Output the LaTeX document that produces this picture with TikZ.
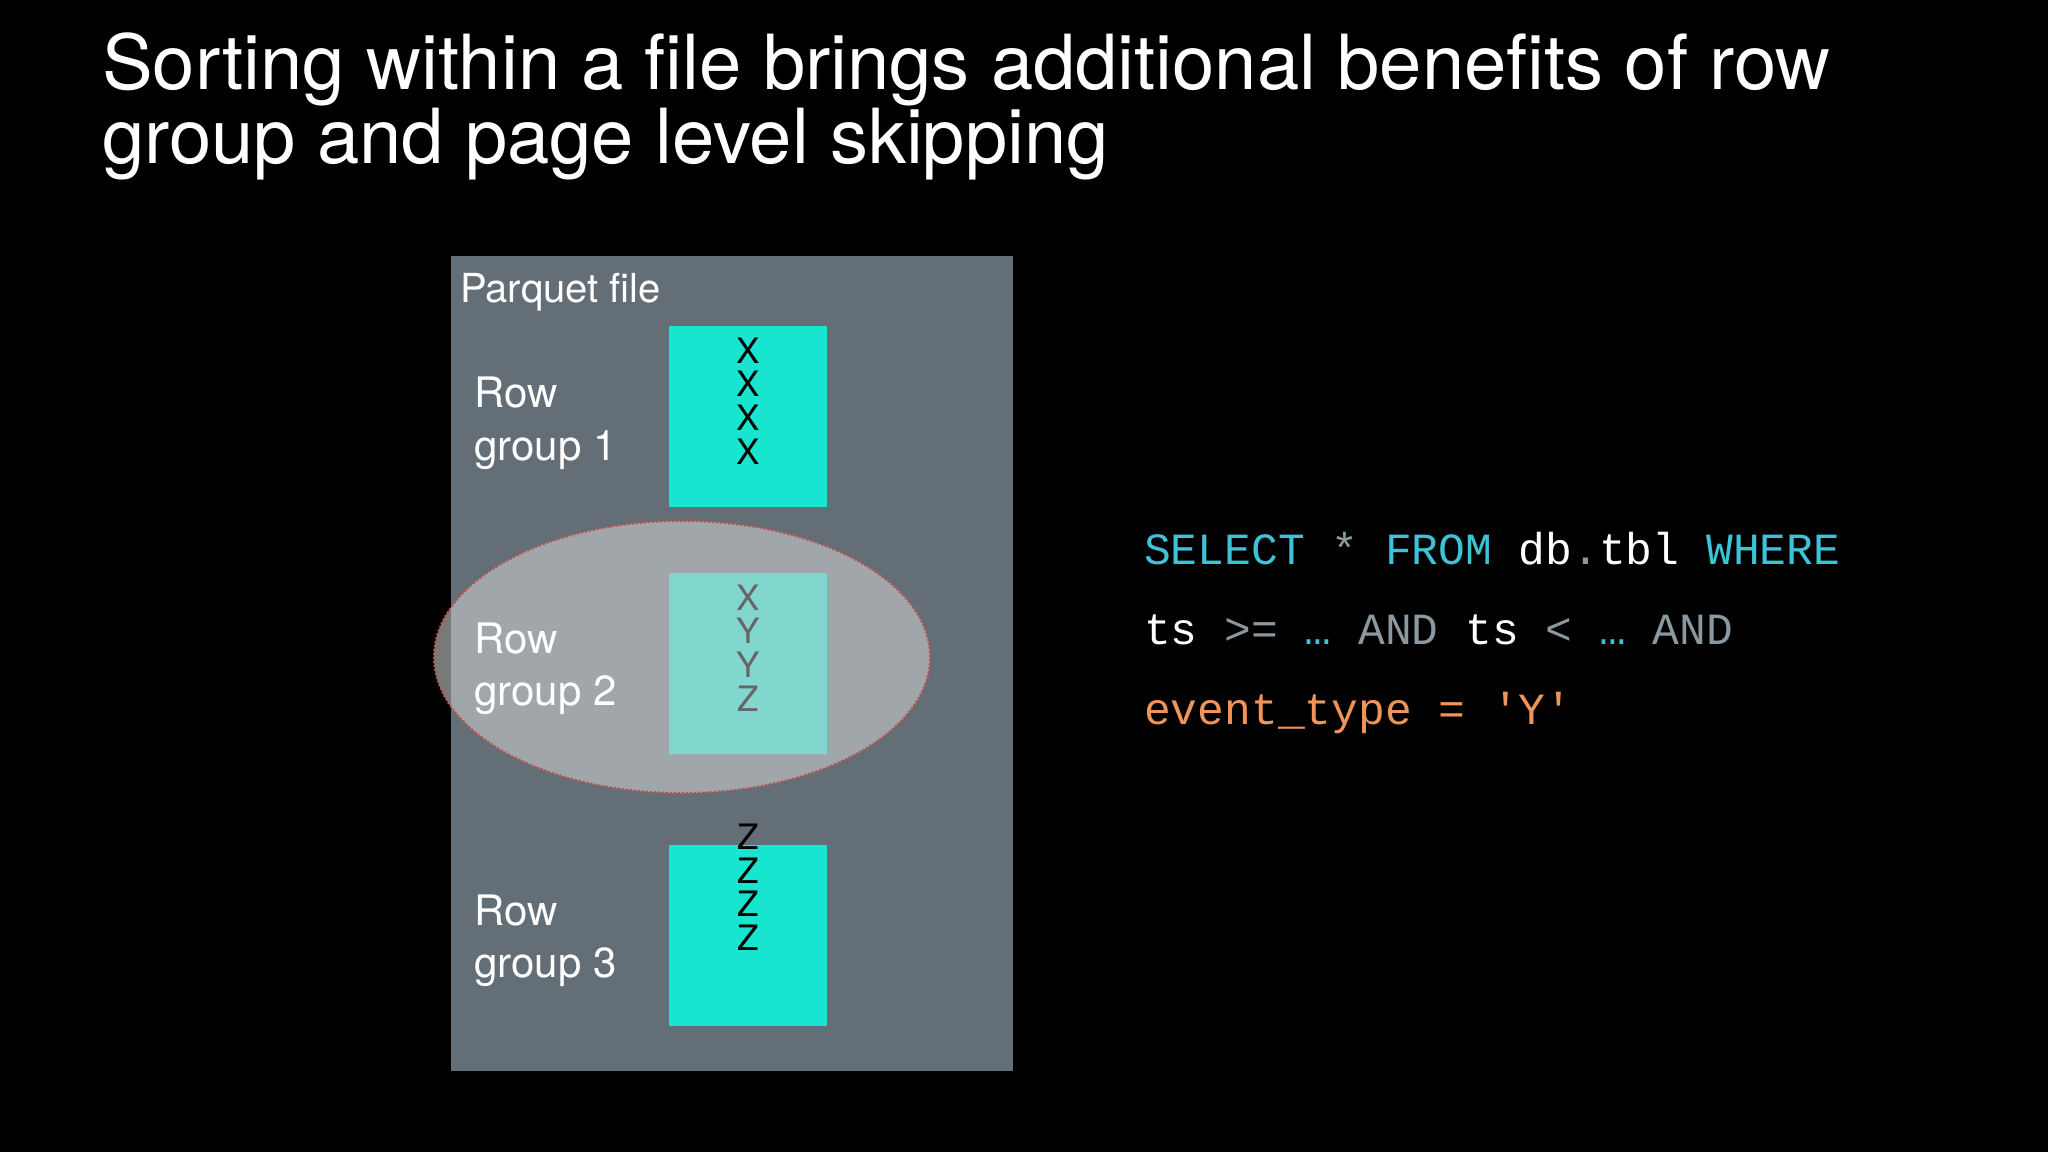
\documentclass[tikz,border=0pt]{standalone}
\usepackage{fontspec}
\setmainfont{TeX Gyre Heros}
\setmonofont{Liberation Mono}
\usetikzlibrary{shapes.geometric}
\definecolor{panel}{HTML}{636E77}
\definecolor{teal}{HTML}{17E5D0}
\definecolor{kw}{HTML}{3DC2D8}
\definecolor{gr}{HTML}{8C989F}
\definecolor{org}{HTML}{F0955A}
\definecolor{ell}{HTML}{C9CCCC}
\definecolor{dotred}{HTML}{C0504D}
\tikzset{
  txt/.style={anchor=base west,inner sep=0,text=white},
  title/.style={txt,font=\fontsize{76}{80}\selectfont},
  lbl/.style={txt,font=\fontsize{42}{46}\selectfont},
  letter/.style={inner sep=0,font=\fontsize{35}{36}\selectfont},
  block/.style={fill=teal,draw=none,minimum width=158pt,minimum height=181pt,inner sep=0},
  code/.style={txt,font=\ttfamily\fontsize{44.6}{48}\selectfont},
}
\begin{document}
\begin{tikzpicture}[x=1pt,y=-1pt]
\fill[black] (0,0) rectangle (2048,1152);
\useasboundingbox (0,0) rectangle (2048,1152);
\node[title] (t1) at (102,89) {Sorting within a file brings additional benefits of row};
\node[title] (t2) at (102,163) {group and page level skipping};
\fill[panel] (451,256) rectangle (1013,1071);
\node[lbl,font=\fontsize{40}{44}\selectfont] (pf) at (460,302) {Parquet file};
\node[block] (b1) at (748,416.5) {};
\node[block] (b2) at (748,663) {};
\node[block] (b3) at (748,935) {};
\foreach \y/\c [count=\i] in {351/X,384/X,418/X,452/X}{\node[letter] (a\i) at (748,\y) {\c};}
\foreach \y/\c [count=\i] in {938/Z,904/Z,871/Z,837/Z}{\node[letter] (c\i) at (748,\y) {\c};}
\node[ellipse,minimum width=496pt,minimum height=272pt,fill=ell,fill opacity=0.6,draw=dotred,line width=2pt,dotted] (el) at (682,657) {};
\foreach \y/\c [count=\i] in {598/X,631/Y,665/Y,699/Z}{\node[letter,text=black!60] (m\i) at (748,\y) {\c};}
\node[lbl] (r1a) at (474,407) {Row};
\node[lbl] (r1b) at (474,460) {group 1};
\node[lbl] (r2a) at (474,653) {Row};
\node[lbl] (r2b) at (474,705) {group 2};
\node[lbl] (r3a) at (474,925) {Row};
\node[lbl] (r3b) at (474,977) {group 3};
\node[code] (q1) at (1144,564) {\textcolor{kw}{SELECT} \textcolor{gr}{*} \textcolor{kw}{FROM} db\textcolor{gr}{.}tbl \textcolor{kw}{WHERE}};
\node[code] (q2) at (1144,644) {ts \textcolor{gr}{>=} \textcolor{kw}{…} \textcolor{gr}{AND} ts \textcolor{gr}{<} \textcolor{kw}{…} \textcolor{gr}{AND}};
\node[code,text=org] (q3) at (1144,724) {event\_type = 'Y'};
\end{tikzpicture}
\end{document}
